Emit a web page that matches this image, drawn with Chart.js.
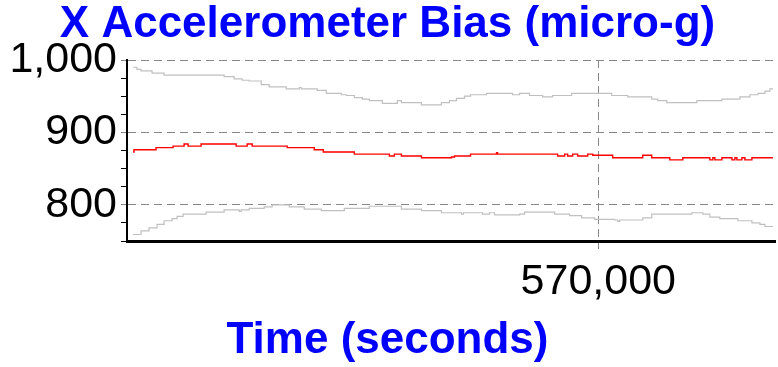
<!DOCTYPE html>
<html>
<head>
<meta charset="utf-8">
<script src="https://cdn.jsdelivr.net/npm/chart.js@4/dist/chart.umd.min.js"></script>
<style>
  html, body { margin: 0; padding: 0; background: #ffffff; }
  #wrap { width: 778px; height: 367px; position: relative; }
</style>
</head>
<body>
<div id="wrap"><canvas id="c"></canvas></div>
<script>
// ---- data (time in seconds, bias in micro-g) ----
const upperTime = [530510, 530850, 531190, 532125, 533145, 538245, 539095, 539775, 540370, 541390,
  542070, 543515, 544620, 544790, 546150, 546915, 548190, 548615, 549295, 549975,
  550570, 551675, 552950, 553290, 554990, 556690, 557370, 557965, 558645, 559155,
  560515, 562725, 563320, 564170, 565275, 566125, 567740, 571140, 572500, 574540,
  575050, 575815, 578365, 580490, 582020, 582870, 583550, 584145, 584570, 584825];
const upperBias = [990, 987, 985, 982, 979, 977, 974, 972, 971, 966,
  963, 960, 962, 960, 958, 954, 952, 951, 948, 946,
  944, 940, 944, 941, 938, 941, 944, 947, 950, 952,
  954, 952, 954, 951, 949, 951, 954, 951, 949, 946,
  944, 941, 944, 946, 949, 952, 954, 957, 960, 960];

const biasTime = [530510, 530595, 532465, 533910, 534845, 535185, 536290, 539265, 540200, 540625,
  543600, 545895, 546660, 549295, 552270, 552695, 553290, 554990, 557540, 557795,
  559155, 561365, 561450, 566550, 567145, 567400, 567825, 568250, 569100, 569525,
  571225, 573775, 574540, 576070, 577175, 579470, 579725, 579895, 580490, 581340,
  581595, 581765, 582190, 582445, 583040, 584825];
const biasValue = [873, 876, 879, 881, 884, 881, 884, 881, 884, 881,
  879, 876, 873, 870, 867.5, 870, 867.5, 865, 866, 867.5,
  870, 872, 870, 867.5, 870, 867.5, 870, 867.5, 870, 868.4,
  865, 868.4, 865, 862, 865, 862, 865, 862, 865, 862,
  865, 862, 865, 862, 865, 865];

const lowerTime = [530510, 531190, 531870, 532550, 533145, 533825, 534250, 534760, 536715, 538245,
  539520, 539690, 540370, 541645, 542325, 543770, 545045, 546490, 548445, 550570,
  553290, 554990, 556690, 558390, 558560, 560175, 560770, 561195, 563320, 563745,
  566295, 567570, 568590, 569695, 571395, 571650, 571820, 573775, 574540, 577940,
  578875, 579470, 580320, 581850, 583040, 583720, 584145, 584825];
const lowerBias = [759, 764, 768, 773, 778, 781, 784, 787, 790, 793,
  791, 793, 795, 797, 800, 797, 794, 792, 795, 798,
  794, 792, 789, 787, 789, 787, 789, 786, 787, 790,
  787, 785, 782, 780, 779, 777, 779, 782, 787, 789,
  787, 783, 781, 778, 775, 773, 770, 770];

const xTickValues = [570000];
const yMajorTicks = [800, 900, 1000];

const toPts = (xs, ys) => xs.map((x, i) => ({ x: x, y: ys[i] }));

const FONT = "'Liberation Sans', Arial, sans-serif";

new Chart(document.getElementById('c'), {
  type: 'line',
  data: {
    datasets: [
      { label: 'Upper', data: toPts(upperTime, upperBias), borderColor: '#c0c0c0', borderWidth: 1.2, stepped: true, pointRadius: 0, fill: false },
      { label: 'Bias', data: toPts(biasTime, biasValue), borderColor: '#ff0000', borderWidth: 1.4, stepped: true, pointRadius: 0, fill: false },
      { label: 'Lower', data: toPts(lowerTime, lowerBias), borderColor: '#c0c0c0', borderWidth: 1.2, stepped: true, pointRadius: 0, fill: false }
    ]
  },
  options: {
    responsive: true,
    maintainAspectRatio: false,
    animation: false,
    devicePixelRatio: 1,
    layout: { padding: { left: 0, right: 3, top: 0, bottom: 0 } },
    plugins: {
      legend: { display: false },
      tooltip: { enabled: false },
      title: {
        display: true,
        text: 'X Accelerometer Bias (micro-g)',
        color: '#0000ff',
        font: { family: FONT, size: 44, weight: 'bold', lineHeight: 1 },
        padding: { top: 3, bottom: 13 }
      },
      subtitle: {
        display: true,
        position: 'bottom',
        text: 'Time (seconds)',
        color: '#0000ff',
        font: { family: FONT, size: 44, weight: 'bold', lineHeight: 1 },
        padding: { top: 0, bottom: 4 }
      }
    },
    scales: {
      x: {
        type: 'linear',
        min: 530000,
        max: 585000,
        afterBuildTicks: (s) => { s.ticks = xTickValues.map(v => ({ value: v })); },
        afterFit: (s) => { s.height = 78; },
        ticks: {
          autoSkip: false,
          maxRotation: 0,
          color: '#000',
          padding: 12,
          font: { family: FONT, size: 43, lineHeight: 1 },
          callback: (v) => Number(v).toLocaleString('en-US')
        },
        grid: {
          color: '#888888',
          lineWidth: 1,
          tickLength: 8,
          tickColor: '#888888',
          drawOnChartArea: true
        },
        border: { display: true, color: '#000000', width: 3, dash: [8, 5] }
      },
      y: {
        min: 750,
        max: 1000,
        afterFit: (s) => { s.width = 127; },
        ticks: {
          stepSize: 25,
          autoSkip: false,
          color: '#000',
          padding: 4,
          font: { family: FONT, size: 43, lineHeight: 1 },
          callback: (v) => yMajorTicks.includes(v) ? Number(v).toLocaleString('en-US') : ''
        },
        grid: {
          color: (ctx) => (ctx.tick && yMajorTicks.includes(ctx.tick.value)) ? '#888888' : 'rgba(0,0,0,0)',
          lineWidth: 1,
          tickLength: 6,
          tickColor: (ctx) => (ctx.tick && yMajorTicks.includes(ctx.tick.value)) ? '#888888' : '#000000',
          drawOnChartArea: true
        },
        border: { display: true, color: '#000000', width: 2, dash: [8, 5] }
      }
    }
  }
});
</script>
</body>
</html>
